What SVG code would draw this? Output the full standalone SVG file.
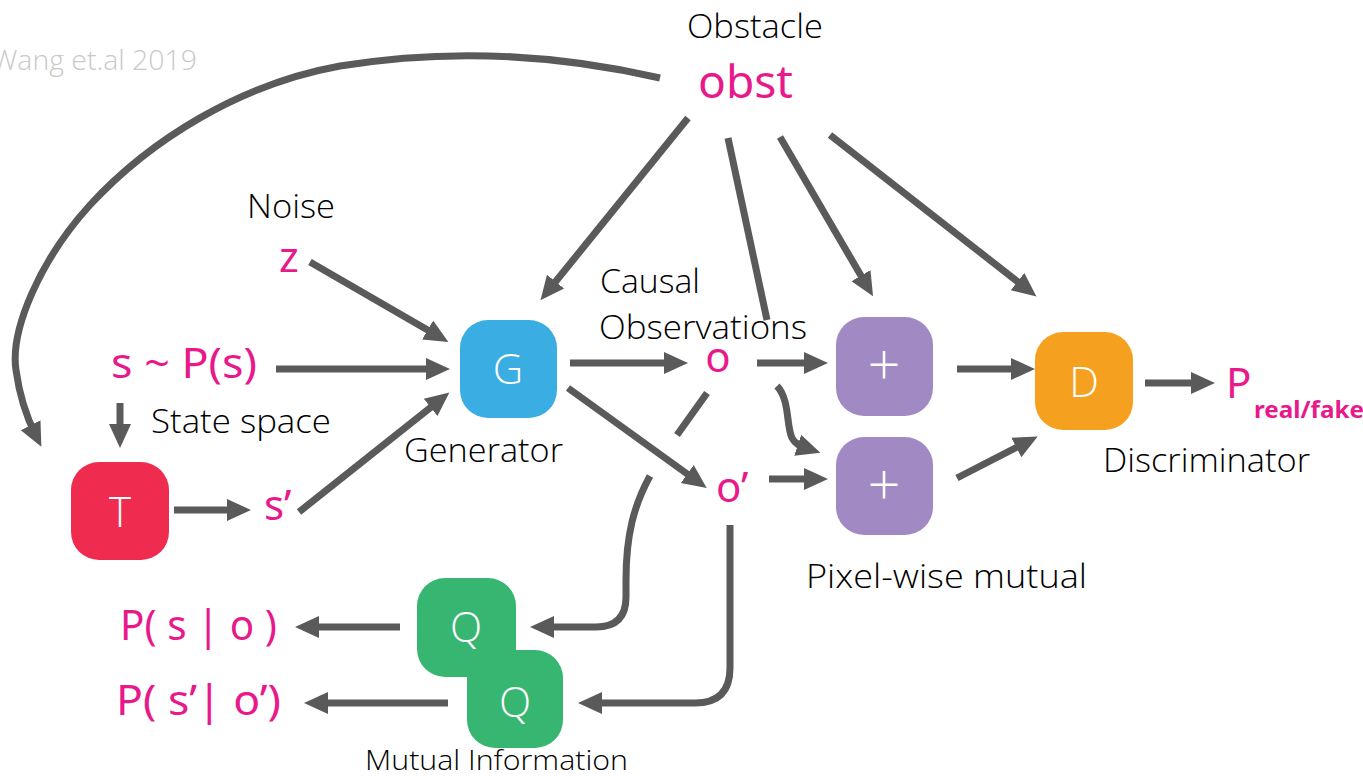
<svg xmlns="http://www.w3.org/2000/svg" width="1363" height="776" viewBox="0 0 1363 776">
  <style>
    .lbl { font-family: "Open Sans", "Noto Sans", "Liberation Sans", sans-serif; font-weight: 300; font-size: 33px; fill: #000; }
    .var { font-family: "Noto Sans", "Liberation Sans", sans-serif; font-size: 42px; fill: #e8198b; }
    .sym { font-family: "Open Sans", "Noto Sans", "Liberation Sans", sans-serif; font-weight: 300; font-size: 42px; fill: #fff; text-anchor: middle; }
    .plus { font-size: 58px; }
    .box { stroke: none; }
    .edge { fill: none; stroke: #5a5a5a; stroke-width: 7; }
    .arrow { marker-end: url(#head); }
  </style>
  <defs>
    <marker id="head" markerUnits="userSpaceOnUse" markerWidth="26" markerHeight="26" refX="12" refY="12" orient="auto">
      <path d="M0,1 L24,12 L0,23 Z" fill="#5a5a5a"/>
    </marker>
  </defs>

  <rect width="1363" height="776" fill="#fff"/>

  <!-- credit -->
  <text x="-8" y="70" style="font-family:'Open Sans','Noto Sans',sans-serif;font-weight:300;font-size:28px;fill:#c9c9c9" textLength="205" lengthAdjust="spacingAndGlyphs">Wang et.al 2019</text>

  <!-- connectors -->
  <g id="connectors">
    <path class="edge arrow" d="M660,78 C560,55 450,48 340,66 C240,84 150,140 90,205 C40,260 10,330 16,370 C20,400 28,420 36,436"/>
    <path class="edge arrow" d="M688,118 L548,291"/>
    <path class="edge" d="M728,138 L767,320"/>
    <path class="edge arrow" d="M780,137 L867,286"/>
    <path class="edge arrow" d="M830,135 L1027,289"/>
    <path class="edge arrow" d="M310,262 L438,336"/>
    <path class="edge arrow" d="M276,369 L438,369"/>
    <path class="edge arrow" d="M120,403 L120,436"/>
    <path class="edge arrow" d="M174,510 L239,510"/>
    <path class="edge arrow" d="M299,512 L440,400"/>
    <path class="edge arrow" d="M570,363 L676,363"/>
    <path class="edge arrow" d="M568,388 L697,481"/>
    <path class="edge arrow" d="M757,363 L816,363"/>
    <path class="edge arrow" d="M777,386 C790,400 786,425 792,438 C795,444 800,446 809,449"/>
    <path class="edge arrow" d="M769,479 L816,479"/>
    <path class="edge arrow" d="M957,369 L1023,369"/>
    <path class="edge arrow" d="M957,478 L1027,442"/>
    <path class="edge arrow" d="M1145,383 L1203,383"/>
    <path class="edge" d="M707,393 L677,435"/>
    <path class="edge arrow" d="M650,476 C634,505 626,535 626,580 L626,597 Q626,627 596,627 L542,627"/>
    <path class="edge arrow" d="M730,525 L730,668 Q730,703 695,703 L590,703"/>
    <path class="edge arrow" d="M400,627 L307,627"/>
    <path class="edge arrow" d="M448,703 L316,703"/>
  </g>

  <!-- labels -->
  <g id="obst">
    <text class="lbl" x="687" y="38" textLength="136" lengthAdjust="spacingAndGlyphs">Obstacle</text>
    <text class="var" x="698" y="98" style="font-size:46px" textLength="95" lengthAdjust="spacingAndGlyphs">obst</text>
  </g>
  <g id="noise">
    <text class="lbl" x="247" y="218" textLength="88" lengthAdjust="spacingAndGlyphs">Noise</text>
    <text class="var" x="279" y="272">z</text>
  </g>
  <g id="state">
    <text class="var" x="111" y="378" textLength="146" lengthAdjust="spacingAndGlyphs">s ~ P(s)</text>
    <text class="lbl" x="151" y="433" textLength="180" lengthAdjust="spacingAndGlyphs">State space</text>
  </g>
  <g id="s-prime">
    <text class="var" x="264" y="520">s’</text>
  </g>
  <g id="T">
    <rect class="box" x="71" y="462" width="98" height="98" rx="28" fill="#ef2c4f"/>
    <text class="sym" x="120" y="527">T</text>
  </g>
  <g id="G">
    <rect class="box" x="460" y="320" width="97" height="98" rx="28" fill="#3aade2"/>
    <text class="sym" x="508" y="384">G</text>
    <text class="lbl" x="404" y="462" textLength="159" lengthAdjust="spacingAndGlyphs">Generator</text>
  </g>
  <g id="observations">
    <text class="lbl" x="600" y="293" textLength="100" lengthAdjust="spacingAndGlyphs">Causal</text>
    <text class="lbl" x="599" y="339" textLength="208" lengthAdjust="spacingAndGlyphs">Observations</text>
    <text class="var" x="718" y="372" text-anchor="middle">o</text>
    <text class="var" x="716" y="502">o’</text>
  </g>
  <g id="plus-top">
    <rect class="box" x="836" y="317" width="97" height="99" rx="28" fill="#a18ac3"/>
    <text class="sym plus" x="884" y="386">+</text>
  </g>
  <g id="plus-bottom">
    <rect class="box" x="836" y="437" width="97" height="98" rx="28" fill="#a18ac3"/>
    <text class="sym plus" x="884" y="506">+</text>
    <text class="lbl" x="806" y="588" textLength="281" lengthAdjust="spacingAndGlyphs">Pixel-wise mutual</text>
  </g>
  <g id="D">
    <rect class="box" x="1035" y="332" width="98" height="98" rx="28" fill="#f6a020"/>
    <text class="sym" x="1084" y="397">D</text>
    <text class="lbl" x="1103" y="472" textLength="207" lengthAdjust="spacingAndGlyphs">Discriminator</text>
  </g>
  <g id="p-real-fake">
    <text class="var" x="1226" y="398">P</text>
    <text x="1254" y="418" style="font-family:'Noto Sans','Liberation Sans',sans-serif;font-weight:700;font-size:23px;fill:#e8198b" textLength="110" lengthAdjust="spacingAndGlyphs">real/fake</text>
  </g>
  <g id="Q1">
    <rect class="box" x="417" y="578" width="99" height="99" rx="28" fill="#37b672"/>
    <text class="sym" x="466" y="642">Q</text>
    <text class="var" x="120" y="640" textLength="157" lengthAdjust="spacingAndGlyphs">P( s | o )</text>
  </g>
  <g id="Q2">
    <rect class="box" x="467" y="650" width="96" height="98" rx="28" fill="#37b672" stroke="#e8f5ec" stroke-width="2"/>
    <text class="sym" x="515" y="717">Q</text>
    <text class="var" x="116" y="715" textLength="165" lengthAdjust="spacingAndGlyphs">P( s’| o’)</text>
    <text class="lbl" x="365" y="770" style="font-size:28px" textLength="263" lengthAdjust="spacingAndGlyphs">Mutual Information</text>
  </g>
</svg>
